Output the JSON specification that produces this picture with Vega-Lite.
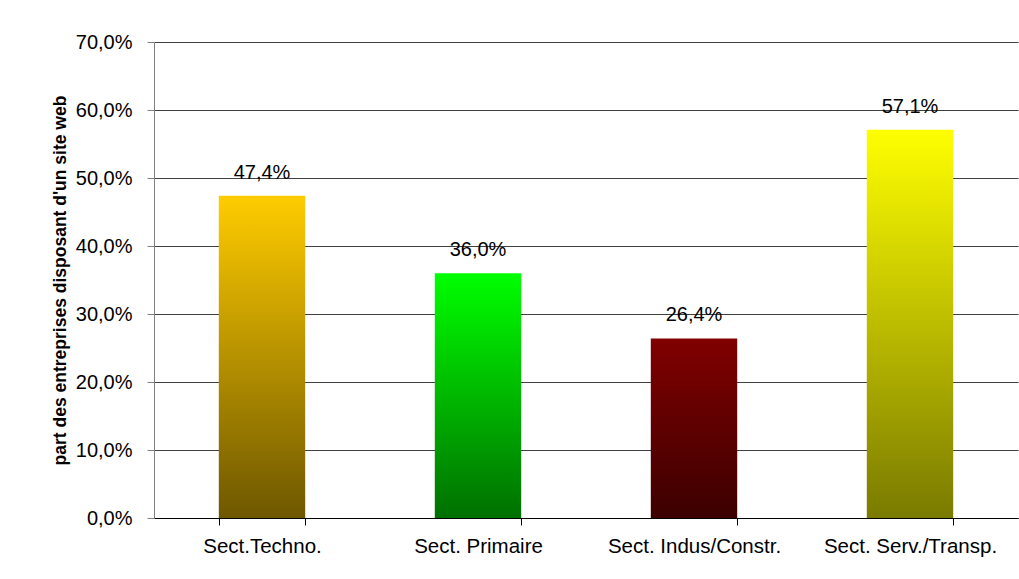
{
  "$schema": "https://vega.github.io/schema/vega-lite/v6.json",
  "width": 864,
  "height": 476,
  "autosize": {"type": "none"},
  "padding": {"left": 154, "top": 42, "right": 1, "bottom": 61},
  "background": "white",
  "config": {
    "locale": {"number": {"decimal": ",", "thousands": " ", "grouping": [3], "currency": ["", " €"]}},
    "font": "Liberation Sans",
    "view": {"stroke": null}
  },
  "data": {"values": [
    {"secteur": "Sect.Techno.", "part": 0.474},
    {"secteur": "Sect. Primaire", "part": 0.360},
    {"secteur": "Sect. Indus/Constr.", "part": 0.264},
    {"secteur": "Sect. Serv./Transp.", "part": 0.571}
  ]},
  "encoding": {
    "x": {
      "field": "secteur", "type": "nominal", "sort": null,
      "scale": {"paddingInner": 0.6, "paddingOuter": 0.3},
      "axis": {
        "title": null, "labelAngle": 0, "labelFontSize": 20.5, "labelColor": "#000", "labelPadding": 11,
        "tickBand": "extent", "tickSize": 7, "tickColor": "#000", "domainColor": "#000", "grid": false,
        "labelFont": "Liberation Sans"
      }
    },
    "y": {
      "field": "part", "type": "quantitative",
      "scale": {"domain": [0, 0.7], "nice": false},
      "axis": {
        "title": "part des entreprises disposant d'un site web", "titleFontSize": 17.5, "titleFontWeight": "bold",
        "titleColor": "#000", "titlePadding": 6, "titleFont": "Liberation Sans",
        "format": "0.1%", "values": [0, 0.1, 0.2, 0.3, 0.4, 0.5, 0.6, 0.7],
        "labelFontSize": 20, "labelColor": "#000", "labelPadding": 15, "labelFont": "Liberation Sans",
        "tickSize": 7, "tickColor": "#808080", "domainColor": "#808080",
        "grid": true, "gridColor": "#404040", "gridOpacity": 1, "gridWidth": 1
      }
    }
  },
  "layer": [
    {
      "transform": [{"filter": "datum.secteur == 'Sect.Techno.'"}],
      "mark": {"type": "bar", "color": {"gradient": "linear", "x1": 0, "y1": 0, "x2": 0, "y2": 1, "stops": [{"offset": 0, "color": "#FFCC00"}, {"offset": 1, "color": "#6E5700"}]}}
    },
    {
      "transform": [{"filter": "datum.secteur == 'Sect. Primaire'"}],
      "mark": {"type": "bar", "color": {"gradient": "linear", "x1": 0, "y1": 0, "x2": 0, "y2": 1, "stops": [{"offset": 0, "color": "#00FF00"}, {"offset": 1, "color": "#007000"}]}}
    },
    {
      "transform": [{"filter": "datum.secteur == 'Sect. Indus/Constr.'"}],
      "mark": {"type": "bar", "color": {"gradient": "linear", "x1": 0, "y1": 0, "x2": 0, "y2": 1, "stops": [{"offset": 0, "color": "#800000"}, {"offset": 1, "color": "#3C0000"}]}}
    },
    {
      "transform": [{"filter": "datum.secteur == 'Sect. Serv./Transp.'"}],
      "mark": {"type": "bar", "color": {"gradient": "linear", "x1": 0, "y1": 0, "x2": 0, "y2": 1, "stops": [{"offset": 0, "color": "#FFFF00"}, {"offset": 1, "color": "#7A7A00"}]}}
    },
    {
      "mark": {"type": "text", "fontSize": 20, "color": "#000", "baseline": "alphabetic", "dy": -17, "font": "Liberation Sans"},
      "encoding": {"text": {"field": "part", "type": "quantitative", "format": "0.1%"}}
    }
  ]
}
